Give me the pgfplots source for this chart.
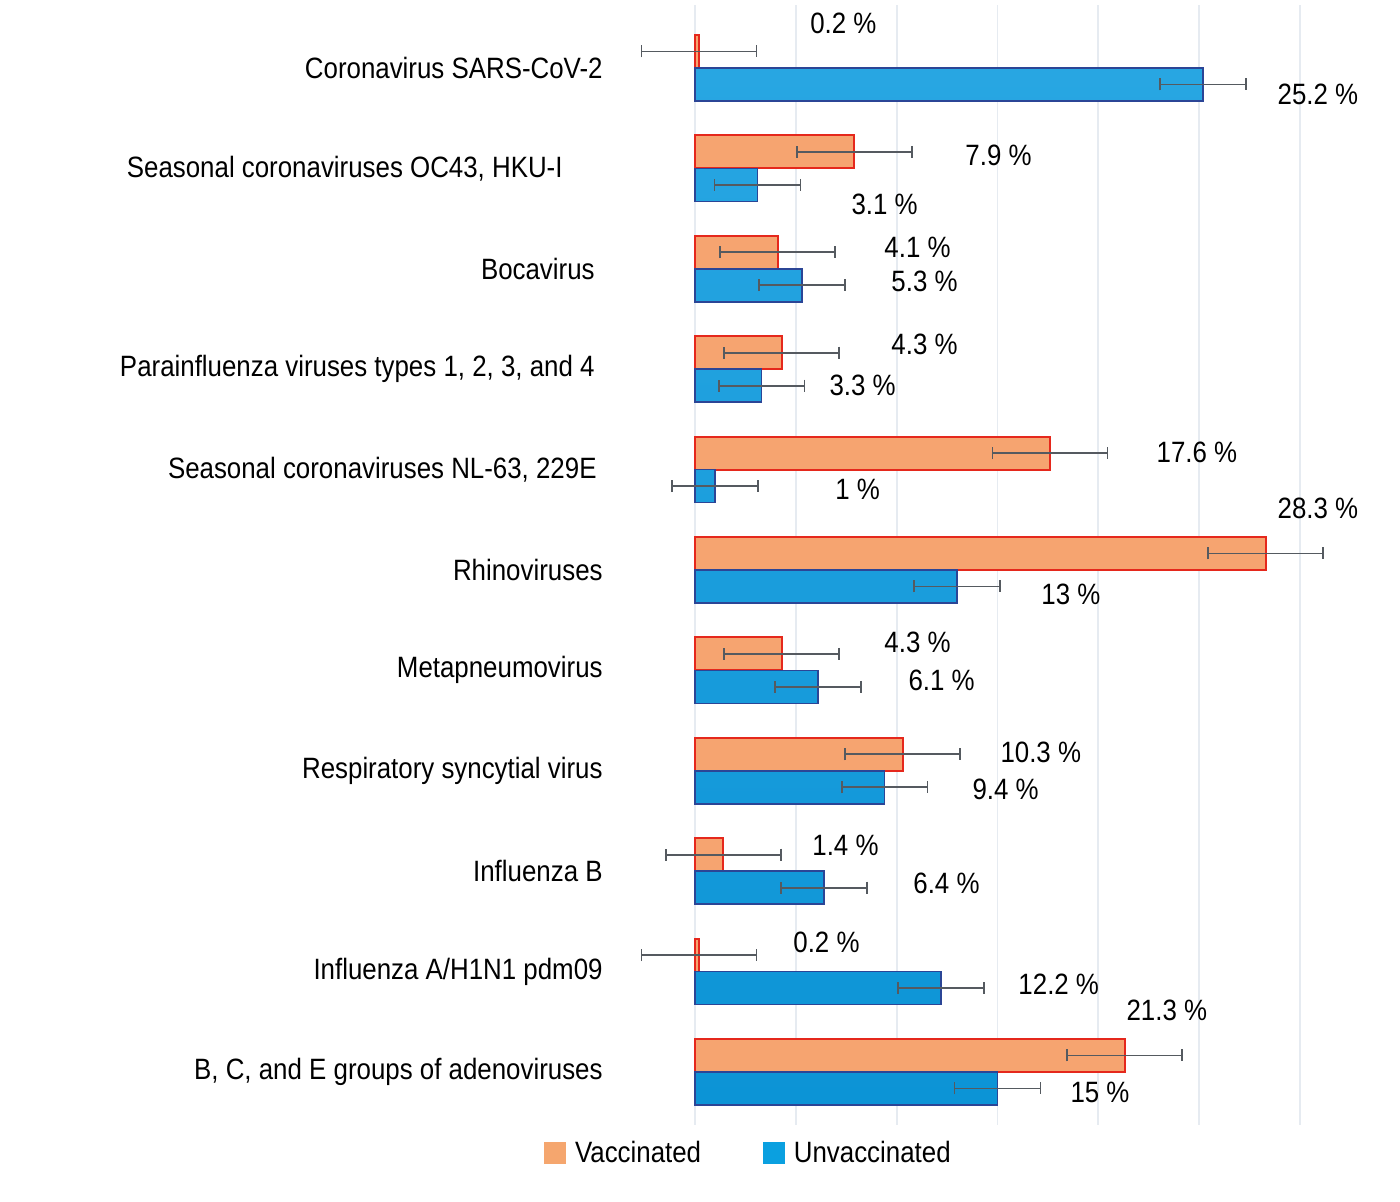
\documentclass[border=0pt]{standalone}
\usepackage{fontspec}
\setmainfont[FakeStretch=0.88]{Liberation Sans}
\usepackage{pgfplots}
\pgfplotsset{compat=1.18}
\definecolor{vacc}{HTML}{F6A470}
\definecolor{vacclight}{HTML}{F9BC90}
\definecolor{vaccedge}{HTML}{E5281C}
\definecolor{unv}{HTML}{0C94D6}
\definecolor{unvlight}{HTML}{28A6E2}
\definecolor{unvedge}{HTML}{2B4596}
\definecolor{errc}{HTML}{555A60}
\definecolor{gridc}{HTML}{E6EBF1}
\definecolor{vaccleg}{HTML}{F5A66E}
\definecolor{unvleg}{HTML}{0AA0E0}
\newcommand{\lblfont}{\fontsize{14.7}{16}\selectfont}
\begin{document}
\begin{tikzpicture}
\useasboundingbox (0,0) rectangle (700pt,601pt);
\begin{axis}[
  at={(347.5pt,38.5pt)}, anchor=south west,
  scale only axis, width=302.5pt, height=560pt,
  xmin=0, xmax=30, ymin=-0.528, ymax=10.627,
  bar width=16.5pt,
  axis line style={draw=none}, major tick length=0pt,
  xtick={0,5,...,30}, xticklabels={},
  xmajorgrids, major grid style={draw=gridc, line width=0.9pt},
  ytick={0,...,10},
  yticklabels={
    {B, C, and E groups of adenoviruses},
    {Influenza A/H1N1 pdm09},
    {Influenza B},
    {Respiratory syncytial virus},
    {Metapneumovirus},
    {Rhinoviruses},
    {Seasonal coronaviruses NL-63, 229E\rule{3pt}{0pt}},
    {Parainfluenza viruses types 1, 2, 3, and 4\rule{4pt}{0pt}},
    {Bocavirus\rule{4pt}{0pt}},
    {Seasonal coronaviruses OC43, HKU-I\rule{20pt}{0pt}},
    {Coronavirus SARS-CoV-2}},
  yticklabel style={anchor=east, inner sep=0pt, xshift=-46pt, font=\lblfont},
  clip=false,
  font=\lblfont,
  legend style={at={(axis cs:2.70,-0.807)}, anchor=center, draw=none, fill=none,
    font=\lblfont, legend columns=2,
    /tikz/every even column/.append style={column sep=29pt}},
]
\addplot[xbar, forget plot, bar shift=0pt, draw=vaccedge, line width=1pt,
  top color=vacc, middle color=vacclight, bottom color=vacc,
  error bars/.cd, x dir=both, x explicit, error mark=|,
  error bar style={line width=0.9pt, draw=errc},
  error mark options={line width=0.9pt, draw=errc, mark size=3pt}]
coordinates {
  (0.2,10.1643) +- (2.85,0)
  (7.9,9.1643) +- (2.85,0)
  (4.1,8.1643) +- (2.85,0)
  (4.3,7.1643) +- (2.85,0)
  (17.6,6.1643) +- (2.85,0)
  (28.3,5.1643) +- (2.85,0)
  (4.3,4.1643) +- (2.85,0)
  (10.3,3.1643) +- (2.85,0)
  (1.4,2.1643) +- (2.85,0)
  (0.2,1.1643) +- (2.85,0)
  (21.3,0.1643) +- (2.85,0)
};
\addplot[xbar, forget plot, bar shift=0pt, draw=unvedge, line width=0.8pt,
  top color=unvlight, bottom color=unv,
  error bars/.cd, x dir=both, x explicit, error mark=|,
  error bar style={line width=0.9pt, draw=errc},
  error mark options={line width=0.9pt, draw=errc, mark size=3pt}]
coordinates {
  (25.2,9.8357) +- (2.13,0)
  (3.1,8.8357) +- (2.13,0)
  (5.3,7.8357) +- (2.13,0)
  (3.3,6.8357) +- (2.13,0)
  (1,5.8357) +- (2.13,0)
  (13,4.8357) +- (2.13,0)
  (6.1,3.8357) +- (2.13,0)
  (9.4,2.8357) +- (2.13,0)
  (6.4,1.8357) +- (2.13,0)
  (12.2,0.8357) +- (2.13,0)
  (15,-0.1643) +- (2.13,0)
};
\addlegendimage{legend image code/.code={\fill[vaccleg] (0pt,-5.25pt) rectangle (10.5pt,5.25pt); \path (13pt,0pt);}}
\addlegendentry{Vaccinated}
\addlegendimage{legend image code/.code={\fill[unvleg] (0pt,-5.25pt) rectangle (10.5pt,5.25pt); \path (13pt,0pt);}}
\addlegendentry{Unvaccinated}
\begin{scope}[every node/.style={anchor=west, inner sep=0pt, font=\lblfont}]
\node at (axis cs:5.70,10.44) {0.2 \%};
\node at (axis cs:28.87,9.74) {25.2 \%};
\node at (axis cs:13.39,9.13) {7.9 \%};
\node at (axis cs:7.74,8.64) {3.1 \%};
\node at (axis cs:9.375,8.21) {4.1 \%};
\node at (axis cs:9.72,7.87) {5.3 \%};
\node at (axis cs:9.72,7.25) {4.3 \%};
\node at (axis cs:6.65,6.84) {3.3 \%};
\node at (axis cs:22.87,6.175) {17.6 \%};
\node at (axis cs:6.94,5.80) {1 \%};
\node at (axis cs:28.87,5.61) {28.3 \%};
\node at (axis cs:17.16,4.76) {13 \%};
\node at (axis cs:9.375,4.28) {4.3 \%};
\node at (axis cs:10.57,3.90) {6.1 \%};
\node at (axis cs:15.13,3.18) {10.3 \%};
\node at (axis cs:13.74,2.81) {9.4 \%};
\node at (axis cs:5.80,2.26) {1.4 \%};
\node at (axis cs:10.81,1.88) {6.4 \%};
\node at (axis cs:4.86,1.29) {0.2 \%};
\node at (axis cs:16.02,0.87) {12.2 \%};
\node at (axis cs:21.38,0.61) {21.3 \%};
\node at (axis cs:18.60,-0.20) {15 \%};
\end{scope}
\end{axis}
\end{tikzpicture}
\end{document}
